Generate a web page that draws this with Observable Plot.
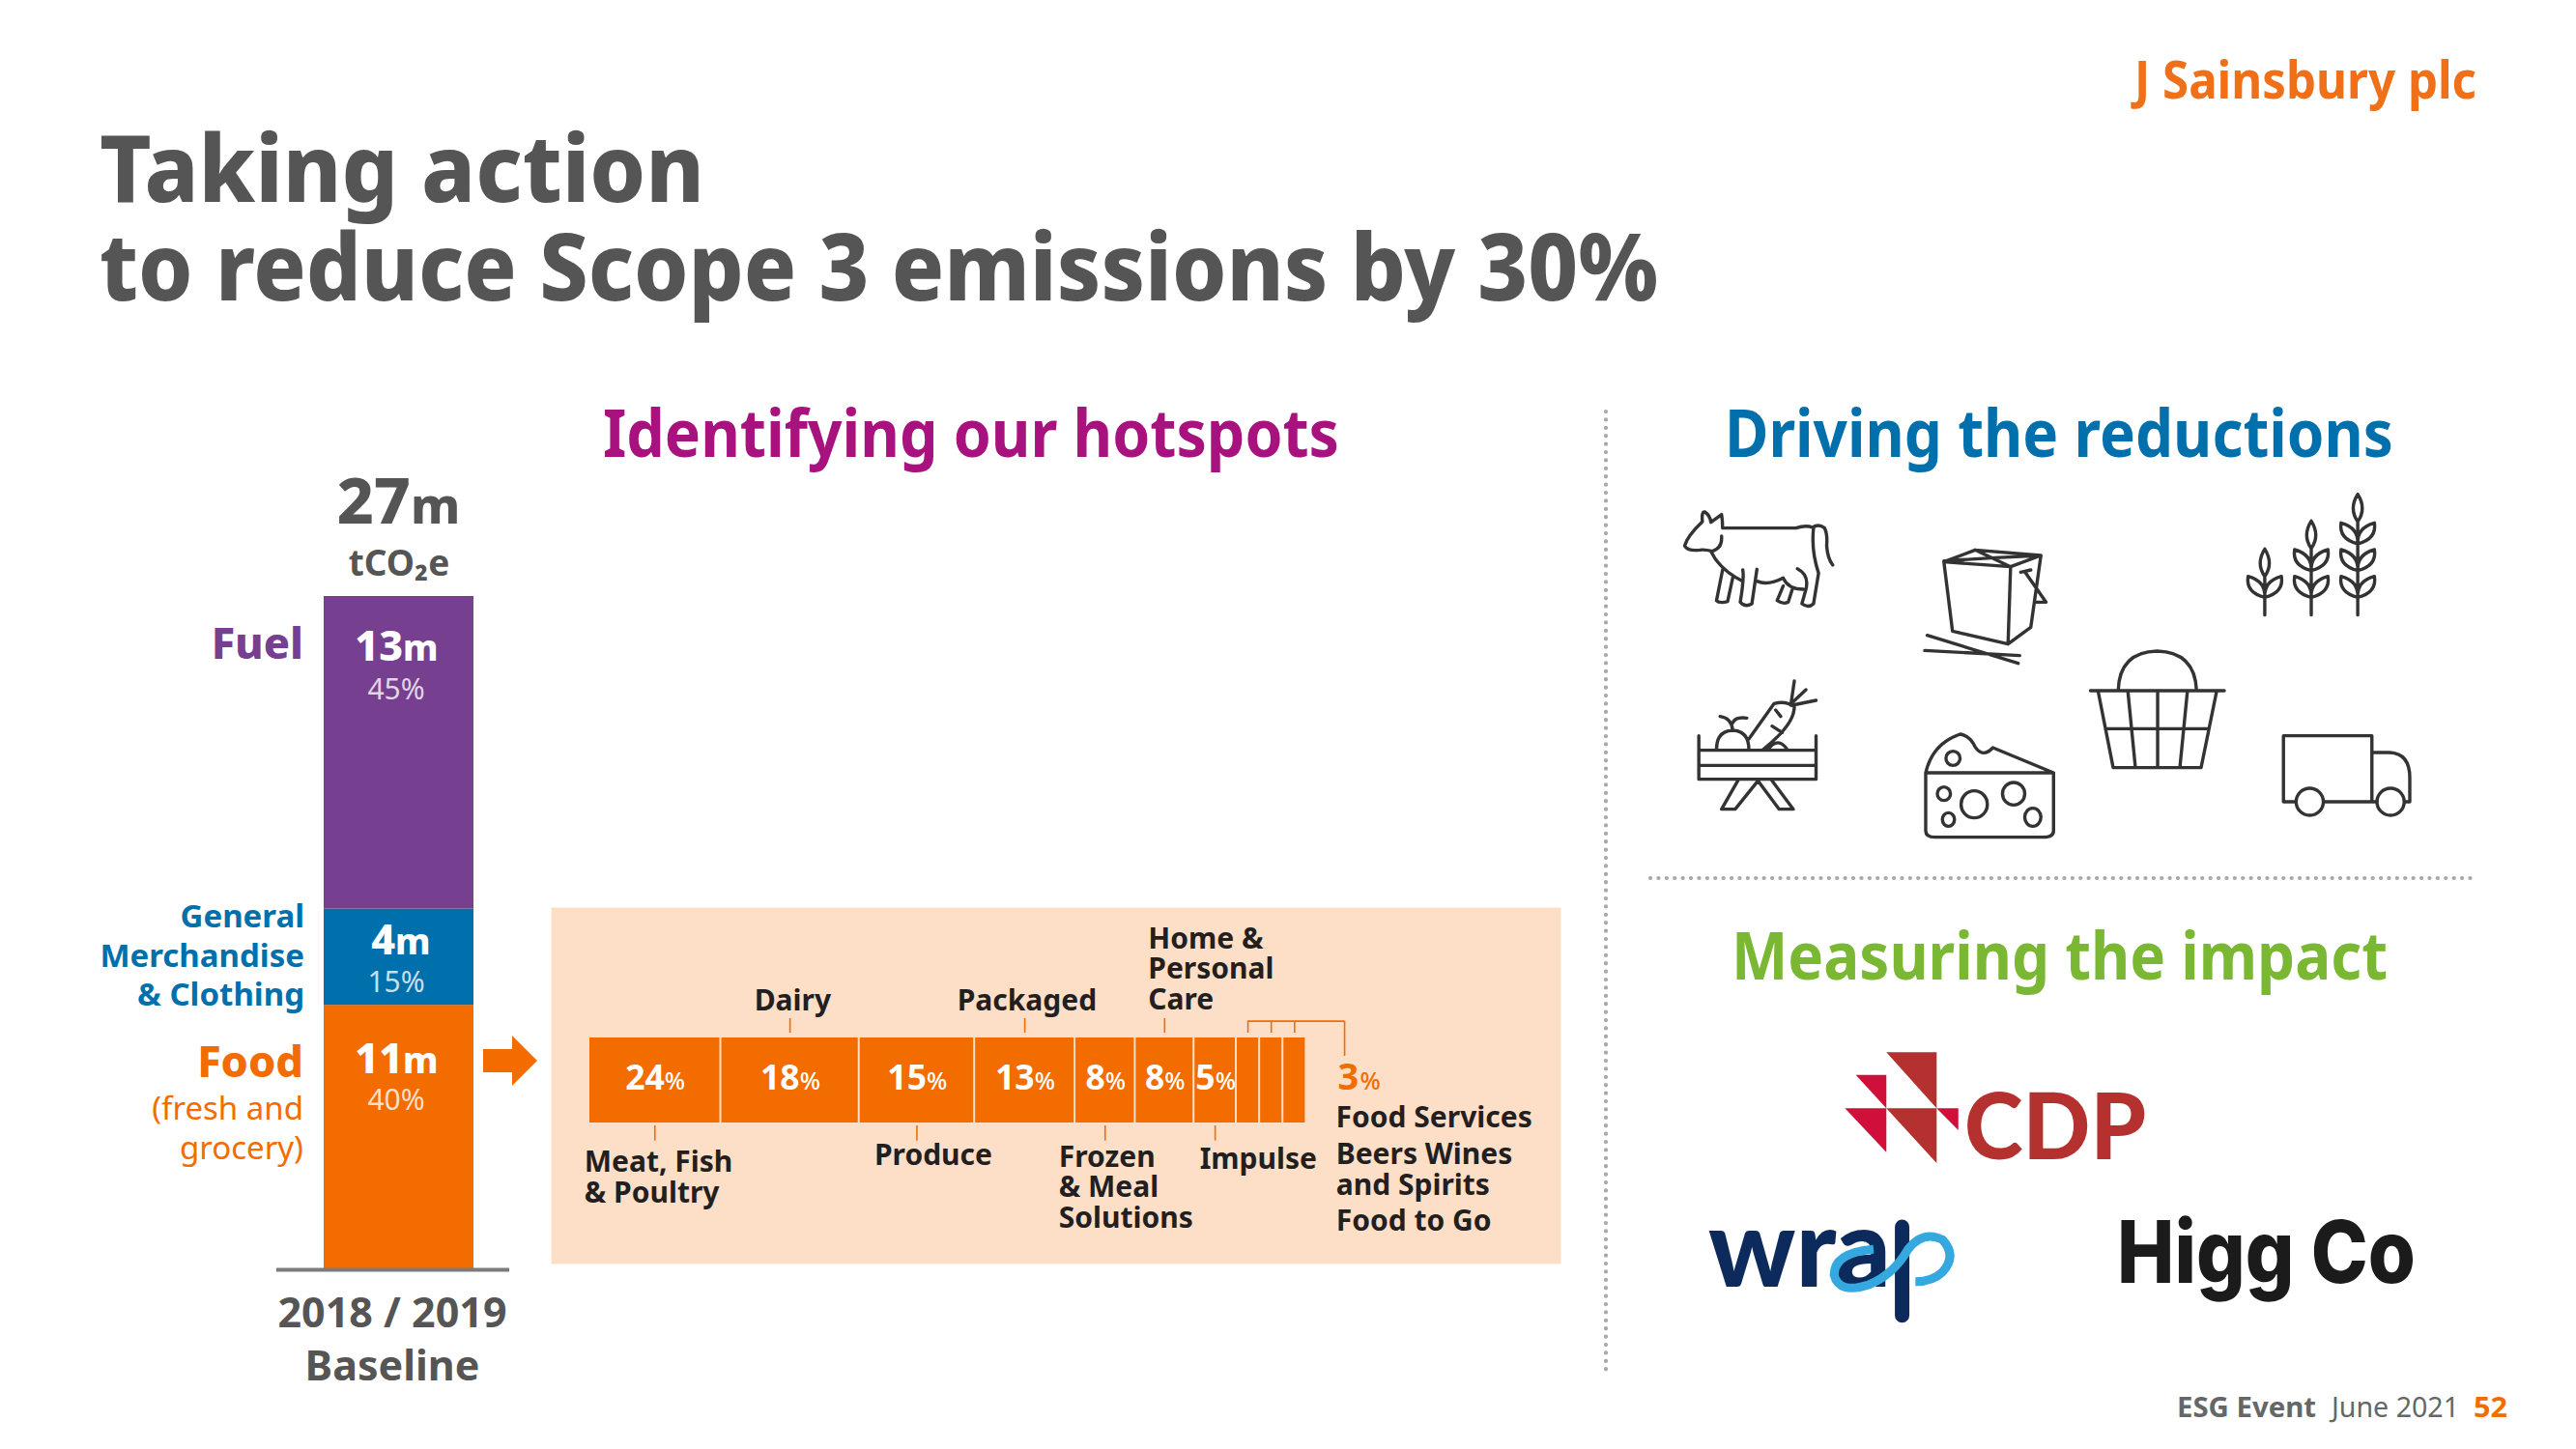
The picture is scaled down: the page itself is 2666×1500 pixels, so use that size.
<!DOCTYPE html>
<html><head><meta charset="utf-8">
<script src="https://cdn.jsdelivr.net/npm/d3@7"></script>
<script src="https://cdn.jsdelivr.net/npm/@observablehq/plot@0.6"></script>
<style>
html,body{margin:0;padding:0;background:#fff}
#page{position:relative;width:2666px;height:1500px;overflow:hidden;background:#fff;font-family:"Noto Sans",sans-serif}
#page>svg{position:absolute;overflow:visible;max-width:none}
.t{position:absolute;white-space:pre;line-height:1;transform-origin:0 0}
</style></head><body><div id="page"></div>
<script>
// ---------- data ----------
const baselineYear = "2018 / 2019\nBaseline";
const totalLabel = "27";
const scopeCategories = ["Food", "General\nMerchandise\n& Clothing", "Fuel"];
const scopeMillions = [11, 4, 13];
const scopeShares = [40, 15, 45];
const scopeColors = ["#f26c00", "#0070ad", "#773f90"];

const hotspotCategories = ["Meat, Fish\n& Poultry", "Dairy", "Produce", "Packaged", "Frozen\n& Meal\nSolutions",
  "Home &\nPersonal\nCare", "Impulse", "Food Services", "Beers Wines\nand Spirits", "Food to Go"];
const hotspotShares = [24, 18, 15, 13, 8, 8, 5, 3, 3, 3];
// The drawn segments in the source are not proportional to their printed shares;
// these are the segment lengths (percent of bar length).
const hotspotLengths = [18.4, 19.3, 16.1, 14.0, 8.4, 8.2, 5.9, 3.25, 3.25, 3.25];

// ---------- helpers ----------
const page = document.getElementById("page");
const FONT = '"Noto Sans"';
const GREY = "#555555", ORANGE = "#f26c00";
function place(svg, left, top){ svg.style.left = left+"px"; svg.style.top = top+"px"; page.appendChild(svg); }
function label(str, o){
  const s = document.createElement("span"); s.className = "t"; s.textContent = str;
  s.style.fontSize = o.size+"px"; s.style.fontWeight = o.weight||700; s.style.color = o.color||GREY;
  s.style.fontFamily = o.font||FONT; if(o.spacing) s.style.letterSpacing = o.spacing+"px";
  page.appendChild(s);
  const w = s.getBoundingClientRect().width;
  s.style.left = o.x+"px"; s.style.top = (o.base-o.size)+"px";
  s.style.transform = `scaleX(${o.w/w})`;
  // align baseline exactly
  const m = document.createElement("span"); m.style.cssText="display:inline-block;width:0;height:0;vertical-align:baseline";
  s.appendChild(m);
  const pb = m.getBoundingClientRect().bottom;
  s.style.top = (parseFloat(s.style.top)+o.base-pb)+"px";
}

// ---------- stacked column ----------
let acc = 0;
const scopeRows = scopeCategories.map((c,i)=>{ const r={cat:c,v:scopeMillions[i],share:scopeShares[i],color:scopeColors[i],y1:acc,y2:acc+scopeMillions[i]}; acc+=scopeMillions[i]; return r; });
const total = acc;
const colX = "col";
const valueDy = [{big:70,pct:108},{big:47,pct:86},{big:66,pct:106}];
const valueDigitW = [2,1,2];
const columnPlot = Plot.plot({
  width:470, height:960, marginLeft:196, marginRight:33, marginTop:137, marginBottom:126,
  style:{background:"transparent"},
  x:{type:"band",domain:[colX],range:[245,400],padding:0,axis:null},
  y:{domain:[0,total],axis:null},
  marks:[
    Plot.barY(scopeRows,{x:()=>colX,y1:"y1",y2:"y2",fill:"color"}),
    Plot.ruleY([0],{stroke:"#7b7b7b",strokeWidth:4}),
    // total above the column
    Plot.text([total],{x:()=>colX,y:d=>d,text:()=>totalLabel,dx:12,dy:-76,textAnchor:"end",lineAnchor:"bottom",fontSize:66,fontWeight:800,fill:GREY,fontFamily:FONT}),
    Plot.text([total],{x:()=>colX,y:d=>d,text:()=>"m",dx:12,dy:-76,textAnchor:"start",lineAnchor:"bottom",fontSize:52,fontWeight:800,fill:GREY,fontFamily:FONT}),
    Plot.text([total],{x:()=>colX,y:d=>d,text:()=>"tCO₂e",dx:0,dy:-22,lineAnchor:"bottom",fontSize:37,fontWeight:700,fill:GREY,fontFamily:FONT}),
    // axis category
    Plot.text([0],{x:()=>colX,y:d=>d,text:()=>baselineYear,dx:-7,dy:114,lineAnchor:"bottom",lineHeight:1.26,fontSize:43,fontWeight:700,fill:GREY,fontFamily:FONT}),
    // values inside the segments
    ...scopeRows.flatMap((r,i)=>[
      Plot.text([r],{x:()=>colX,y:"y2",text:d=>String(d.v),dx:valueDigitW[i]===2?4:-4,dy:valueDy[i].big,textAnchor:"end",lineAnchor:"bottom",fontSize:43,fontWeight:800,fill:"#fff",fontFamily:FONT}),
      Plot.text([r],{x:()=>colX,y:"y2",text:()=>"m",dx:valueDigitW[i]===2?4:-4,dy:valueDy[i].big,textAnchor:"start",lineAnchor:"bottom",fontSize:37,fontWeight:800,fill:"#fff",fontFamily:FONT}),
      Plot.text([r],{x:()=>colX,y:"y2",text:d=>d.share+"%",dx:-3,dy:valueDy[i].pct,lineAnchor:"bottom",fontSize:30,fontWeight:400,fill:"#fff",fillOpacity:0.78,fontFamily:FONT})
    ]),
    // category labels left of the column
    Plot.text([scopeRows[2]],{x:()=>colX,y:"y2",text:d=>d.cat,dx:-99,dy:64,textAnchor:"end",lineAnchor:"bottom",fontSize:45,fontWeight:800,fill:"color",fontFamily:FONT}),
    Plot.text([scopeRows[1]],{x:()=>colX,y:"y2",text:d=>d.cat,dx:-98,dy:100,textAnchor:"end",lineAnchor:"bottom",lineHeight:1.23,fontSize:33,fontWeight:700,fill:"color",fontFamily:FONT}),
    Plot.text([scopeRows[0]],{x:()=>colX,y:"y2",text:d=>d.cat,dx:-99,dy:74,textAnchor:"end",lineAnchor:"bottom",fontSize:45,fontWeight:800,fill:"color",fontFamily:FONT}),
    Plot.text([scopeRows[0]],{x:()=>colX,y:"y2",text:()=>"(fresh and\ngrocery)",dx:-99,dy:159,textAnchor:"end",lineAnchor:"bottom",lineHeight:1.22,fontSize:33,fontWeight:400,fill:"color",fontFamily:FONT})
  ]
});
place(columnPlot,90,480);

// ---------- hotspot bar ----------
let cum = 0;
const hotspotRows = hotspotCategories.map((c,i)=>{ const r={cat:c,share:hotspotShares[i],x1:cum,x2:cum+hotspotLengths[i],mid:cum+hotspotLengths[i]/2,i}; cum+=hotspotLengths[i]; return r; });
// label layout, offsets in pixels from the segment's centre and from the bar edge
const labelSide = ["below","above","below","above","below","above","below","below","below","below"];
const labelDx = [-73,-37,-44,-70,-48,-17,-16,91,67,43];
const labelDy = [82,-29,43,-29,108,-30,47,4,74,111];
const leaderUp = hotspotRows.filter((r,i)=>[1,3,5].includes(i));
const leaderDown = hotspotRows.filter((r,i)=>[0,2,4,6].includes(i));
const bracket = hotspotRows.slice(7);
const bracketEnd = 105.4;
const labelled = hotspotRows.slice(0,7);
const C = ORANGE;
const panelPlot = Plot.plot({
  width:1045, height:369, margin:0,
  style:{background:"transparent"},
  x:{domain:[0,100],range:[39,781],axis:null},
  y:{domain:[0,1],range:[223,135],axis:null},
  marks:[
    Plot.frame({fill:"#fddfc8",stroke:null}),
    Plot.rectX(hotspotRows,{x1:"x1",x2:"x2",y1:0,y2:1,fill:C,insetRight:1,insetLeft:1}),
    Plot.ruleX(leaderUp,{x:"mid",y1:1.057,y2:1.227,stroke:C,strokeWidth:1.6}),
    Plot.ruleX(leaderDown,{x:"mid",y1:-0.034,y2:-0.212,stroke:C,strokeWidth:1.6}),
    Plot.ruleX(bracket,{x:"mid",y1:1.057,y2:1.197,stroke:C,strokeWidth:1.6}),
    Plot.ruleY([1.197],{x1:bracket[0].mid,x2:bracketEnd,stroke:C,strokeWidth:1.6}),
    Plot.ruleX([bracketEnd],{y1:0.784,y2:1.197,stroke:C,strokeWidth:1.6}),
    Plot.text(labelled,{x:"mid",y:()=>0,text:d=>String(d.share),dx:10,dy:-35,textAnchor:"end",lineAnchor:"bottom",fontSize:35.5,fontWeight:700,fill:"#fff",fontFamily:FONT,filter:d=>d.share>=10}),
    Plot.text(labelled,{x:"mid",y:()=>0,text:d=>String(d.share),dx:0,dy:-35,textAnchor:"end",lineAnchor:"bottom",fontSize:35.5,fontWeight:700,fill:"#fff",fontFamily:FONT,filter:d=>d.share<10}),
    Plot.text(labelled,{x:"mid",y:()=>0,text:()=>"%",dx:10,dy:-35,textAnchor:"start",lineAnchor:"bottom",fontSize:25,fontWeight:500,fill:"#fff",fontFamily:FONT,filter:d=>d.share>=10}),
    Plot.text(labelled,{x:"mid",y:()=>0,text:()=>"%",dx:0,dy:-35,textAnchor:"start",lineAnchor:"bottom",fontSize:25,fontWeight:500,fill:"#fff",fontFamily:FONT,filter:d=>d.share<10}),
    Plot.text([hotspotShares[9]],{x:()=>bracketEnd,y:()=>0,text:d=>String(d),dx:-7,dy:-35,textAnchor:"start",lineAnchor:"bottom",fontSize:38,fontWeight:700,fill:C,fontFamily:FONT}),
    Plot.text(["%"],{x:()=>bracketEnd,y:()=>0,text:d=>d,dx:16,dy:-35,textAnchor:"start",lineAnchor:"bottom",fontSize:25,fontWeight:500,fill:C,fontFamily:FONT}),
    ...hotspotRows.map((r,i)=>Plot.text([r],{x:"mid",y:()=>labelSide[i]==="above"?1:0,text:"cat",dx:labelDx[i],dy:labelDy[i],textAnchor:"start",lineAnchor:"bottom",lineHeight:1.04,fontSize:30,fontWeight:700,fill:"#231f20",fontFamily:FONT}))
  ]
});
place(panelPlot,570,939);

// ---------- headings ----------
label("J Sainsbury plc",{x:2209,base:102,size:54,w:354,color:"#f0701a",weight:700});
label("Taking action",{x:103,base:209,size:96,w:626,weight:800});
label("to reduce Scope 3 emissions by 30%",{x:103,base:311,size:96,w:1613,weight:800});
label("Identifying our hotspots",{x:624,base:473,size:68,w:762,color:"#a8127e",weight:700});
label("Driving the reductions",{x:1785,base:473,size:68,w:692,color:"#0070ad",weight:700});
label("Measuring the impact",{x:1792,base:1014,size:68,w:679,color:"#7ab833",weight:700});
label("ESG Event",{x:2253,base:1467,size:29,w:144,weight:700,color:"#666"});
label("June 2021",{x:2413,base:1467,size:29,w:132,weight:400,color:"#666"});
label("52",{x:2560,base:1467,size:29,w:35,weight:700,color:ORANGE});
label("CDP",{x:2033,base:1200,size:96,w:188,weight:900,color:"#b5312f",font:"Lato"});
label("wra",{x:1768,base:1332,size:112,w:189,weight:900,color:"#0d2a5c",font:"Lato"});
label("Higg Co",{x:2191,base:1328,size:90,w:309,weight:800,color:"#1b1b1b",font:"Inter"});

// ---------- decoration (rules, arrow, icons, logos) ----------
const leaf=(x,y,s)=>`M${x} ${y} Q${x-s*38} ${y-15} ${x-s*33} ${y-65} Q${x+s*2} ${y-50} ${x} ${y}`;
const wheat=[[1193,235,1],[1285,148,2],[1377,65,3]].map(([x,t,n])=>{
  let d=`M${x} ${t} Q${x-18} ${t+45} ${x} ${t+85} Q${x+18} ${t+45} ${x} ${t} M${x} ${t+85} V440 `;
  for(let k=0;k<n;k++){const y=385-k*83; d+=leaf(x,y,1)+" "+leaf(x,y,-1)+" ";}
  return d;}).join(" ");
const iconPaths=[
 "M120 170 H265 Q285 160 298 168 Q310 155 322 170 Q328 190 326 225 Q328 265 338 285 M80 150 Q78 118 85 120 Q95 130 97 152 L118 128 Q120 145 120 170 M80 150 Q50 195 45 225 Q50 242 75 238 Q85 236 100 242 Q120 232 118 195 M98 245 Q115 300 160 335 M120 300 L108 395 Q115 405 130 398 L140 325 M160 300 Q163 325 155 400 Q165 418 178 405 L188 298 M188 335 Q210 350 240 325 Q250 360 280 360 M268 296 Q292 315 285 360 L277 405 Q290 420 300 405 L310 310 Q295 240 300 170 M240 350 L228 395 Q240 408 250 400 L258 360",
 "M558 275 L575 490 L685 530 L690 290 Z M558 275 L620 238 L750 255 L690 290 M558 272 L660 262 L750 255 M620 238 L690 290 M685 530 L730 478 L750 255 M710 307 L730 300 M718 305 L760 400 H738 M525 503 L705 590 M520 550 L708 566",
 wheat,
 "M73 815 V950 H305 V815 M73 860 H305 M73 907 H305 M150 955 L118 1043 H145 L190 955 L232 1043 H260 L218 955 M108 858 Q108 800 140 798 Q172 800 172 858 M140 798 Q138 760 115 755 M140 775 Q145 755 168 760 M172 825 L222 715 Q245 705 262 725 Q262 780 200 858 M255 720 L262 645 M258 712 L285 672 M258 720 L305 705 M225 735 L235 755 M218 785 L238 805 M210 858 Q230 815 248 858",
 "M522 930 H775 V1110 Q775 1130 755 1130 H540 Q522 1130 522 1110 Z M522 930 Q535 840 590 810 Q610 815 620 850 Q635 885 655 852 L775 930",
 "M848 675 H1113 M903 675 Q905 555 980 552 Q1055 555 1058 675 M863 675 L893 914 H1067 L1098 675 M880 793 H1082 M922 675 L937 914 M981 675 V914 M1040 675 L1025 914",
 "M1230 1020 V815 H1405 V1020 M1405 867 H1440 Q1480 870 1480 945 V1020 H1470 M1230 1020 H1255 M1310 1020 H1415"
].map(d=>`<path d="${d}" vector-effect="non-scaling-stroke"/>`).join("");
const ell=[[576,885,14,22],[558,995,13,21],[618,1028,26,42],[696,995,22,35],[567,1075,12,21],[734,1068,16,28],[1282,1020,27,42],[1442,1020,27,42]]
  .map(([x,y,a,b])=>`<ellipse cx="${x}" cy="${y}" rx="${a}" ry="${b}" vector-effect="non-scaling-stroke"/>`).join("");
const deco=document.createElementNS("http://www.w3.org/2000/svg","svg");
deco.setAttribute("width",2666);deco.setAttribute("height",1500);deco.style.left="0";deco.style.top="0";deco.style.pointerEvents="none";
deco.innerHTML=`
<line x1="1662" y1="426" x2="1662" y2="1420" stroke="#a8a8a8" stroke-width="4.2" stroke-dasharray="0.1 8.3" stroke-linecap="round"/>
<line x1="1708" y1="909" x2="2562" y2="909" stroke="#a8a8a8" stroke-width="4.2" stroke-dasharray="0.1 8.3" stroke-linecap="round"/>
<path d="M500 1086 H530 V1072 L556 1098 L530 1124 V1110 H500 Z" fill="${ORANGE}"/>
<g transform="translate(1720,490) scale(${820/1568},${1/3})" fill="#fff" fill-opacity="0" stroke="#333" stroke-width="3.4" stroke-linejoin="round" stroke-linecap="round">${iconPaths}${ell}</g>
<g transform="translate(1740,1060) scale(${800/1568},${1/3})">
  <g fill="#b5312f"><polygon points="416,88 518,88 518,262"/><polygon points="416,262 518,262 518,432"/></g>
  <g fill="#d0103a"><polygon points="354,158 416,158 416,262"/><polygon points="332,262 416,262 416,398"/><polygon points="518,262 562,262 562,330"/></g>
  <path d="M448 630 V905" stroke="#0d2a5c" stroke-width="15" stroke-linecap="round" fill="none" vector-effect="non-scaling-stroke"/>
  <path d="M390 700 Q310 710 310 780 Q320 840 380 810 Q430 780 460 700 Q490 640 530 670 Q560 720 530 770 Q510 800 475 800" stroke="#35a8e0" stroke-width="9" fill="none" vector-effect="non-scaling-stroke"/>
</g>`;
page.appendChild(deco);
</script></body></html>
